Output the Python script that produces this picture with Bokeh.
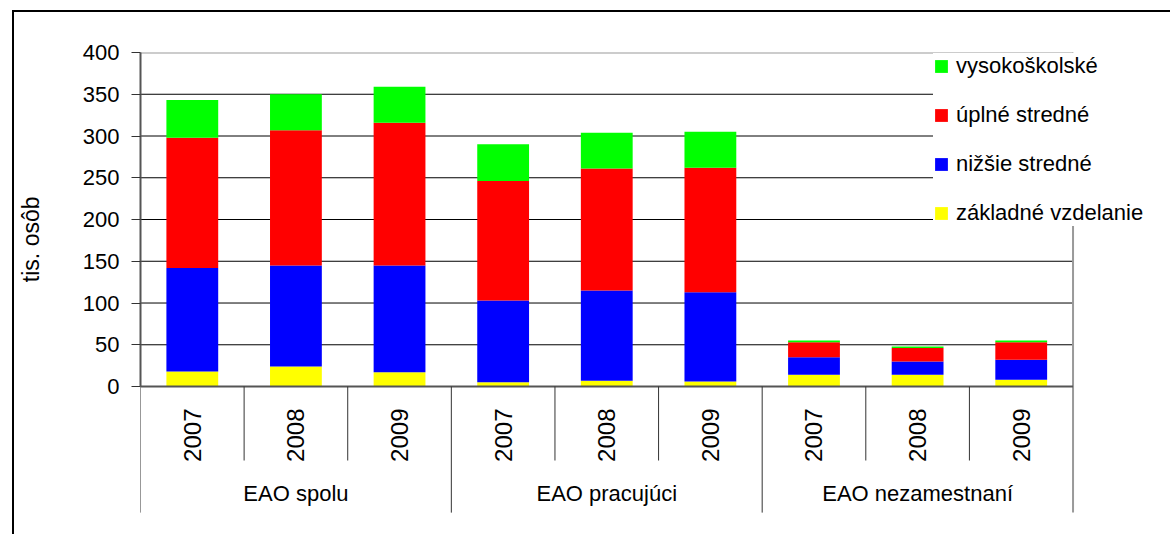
import math
from bokeh.plotting import figure
from bokeh.models import Range1d, FixedTicker, Legend, LegendItem, ColumnDataSource, Title
from bokeh.core.properties import value
from bokeh.embed import file_html
from bokeh.resources import INLINE

# ---- data ----
groups = ["EAO spolu", "EAO pracujúci", "EAO nezamestnaní"]
years = ["2007", "2008", "2009"]
zakladne = [18, 24, 17, 5, 7, 6, 14, 14, 8]
nizsie = [124, 121, 128, 98, 108, 107, 21, 16, 24]
uplne = [156, 162, 171, 143, 146, 149, 18, 16, 21]
vysoko = [45, 43, 43, 44, 43, 43, 2, 2, 2]
series_keys = ["zakladne", "nizsie", "uplne", "vysoko"]
series_names = ["základné vzdelanie", "nižšie stredné", "úplné stredné", "vysokoškolské"]
colors = ["#FFFF00", "#0000FF", "#FF0000", "#00FF00"]
y_ticks = [0, 50, 100, 150, 200, 250, 300, 350, 400]
y_label = "tis. osôb"

FONT = "Liberation Sans"
FS = "22px"

n = len(zakladne)
xs = [i + 0.5 for i in range(n)]
year_labels = [y for g in groups for y in years]
src = ColumnDataSource(dict(x=xs, zakladne=zakladne, nizsie=nizsie, uplne=uplne,
                            vysoko=vysoko, year=year_labels))

p = figure(width=1158, height=524, output_backend="svg", toolbar_location=None,
           x_range=Range1d(0, 9.96), y_range=Range1d(-179.6, 400),
           x_axis_location=None, min_border_left=126, min_border_top=40,
           min_border_bottom=0, min_border_right=0,
           margin=(10, 0, 0, 12),
           styles={"border-left": "2px solid black", "border-top": "2px solid black"})
p.outline_line_color = None
p.xgrid.visible = False
p.ygrid.visible = False
p.background_fill_color = "white"
p.border_fill_color = "white"

ymax = y_ticks[-1]
# grid lines
p.segment(x0=0, x1=n, y0=y_ticks[1:-1], y1=y_ticks[1:-1], line_color="#000000", line_width=1)
# top and right border of plot area
p.segment(x0=0, x1=n, y0=ymax, y1=ymax, line_color="#9a9a9a", line_width=2)
p.segment(x0=n, x1=n, y0=ymax, y1=-151, line_color="#9a9a9a", line_width=2)

# bars
rs = p.vbar_stack(series_keys, x="x", width=0.5, source=src, fill_color=colors, line_color=None)

# base axis line
p.segment(x0=0, x1=n, y0=0, y1=0, line_color="#555555", line_width=2)

# category separators
ng = len(years)
inner = [i for i in range(1, n) if i % ng != 0]
outer = [i for i in range(0, n + 1, ng)]
p.segment(x0=inner, x1=inner, y0=0, y1=-88.6, line_color="#333333", line_width=1)
p.segment(x0=outer[:-1], x1=outer[:-1], y0=0, y1=-151, line_color="#333333", line_width=1)

# year labels
p.text(x="x", y=-58.3, text="year", source=src, angle=math.pi / 2,
       text_align="center", text_baseline="middle", text_font=value(FONT),
       text_font_size="24px", text_color="black")
# group labels
gx = [sum(xs[i * ng:(i + 1) * ng]) / ng for i in range(len(groups))]
p.text(x=gx, y=-128, text=groups, text_align="center", text_baseline="middle",
       text_font=value(FONT), text_font_size=FS, text_color="black")

# y axis
ax = p.yaxis[0]
ax.ticker = FixedTicker(ticks=y_ticks)
ax.bounds = (0, ymax)
ax.minor_tick_line_color = None
ax.major_tick_in = 0
ax.major_tick_out = 9
ax.major_tick_line_color = "#333333"
ax.axis_line_color = "#555555"
ax.axis_line_width = 2
ax.major_label_text_font = FONT
ax.major_label_text_font_size = FS
ax.major_label_text_color = "black"
ax.major_label_standoff = 12
# blank spacer label to widen the axis panel so the side title sits further out
ax.axis_label = " "
ax.axis_label_text_font_size = "10px"
ax.axis_label_standoff = 22

# y axis title (placed as a side title so it can sit near the value range)
p.add_layout(Title(text=y_label, align="right", offset=144, text_font=FONT,
                   text_font_size="23px", text_font_style="normal", text_color="black",
                   standoff=0), "left")

# legend
items = [LegendItem(label=series_names[i], renderers=[rs[i]]) for i in reversed(range(len(rs)))]
legend = Legend(items=items, location=(793, 310), orientation="vertical",
                background_fill_color="white", background_fill_alpha=1.0,
                border_line_color=None, padding=12, spacing=23, margin=0,
                glyph_width=16, glyph_height=16, label_height=26, label_standoff=7,
                label_text_font=FONT, label_text_font_size=FS, label_text_color="black")
p.add_layout(legend)

open("out.html", "w").write(file_html(p, INLINE))
